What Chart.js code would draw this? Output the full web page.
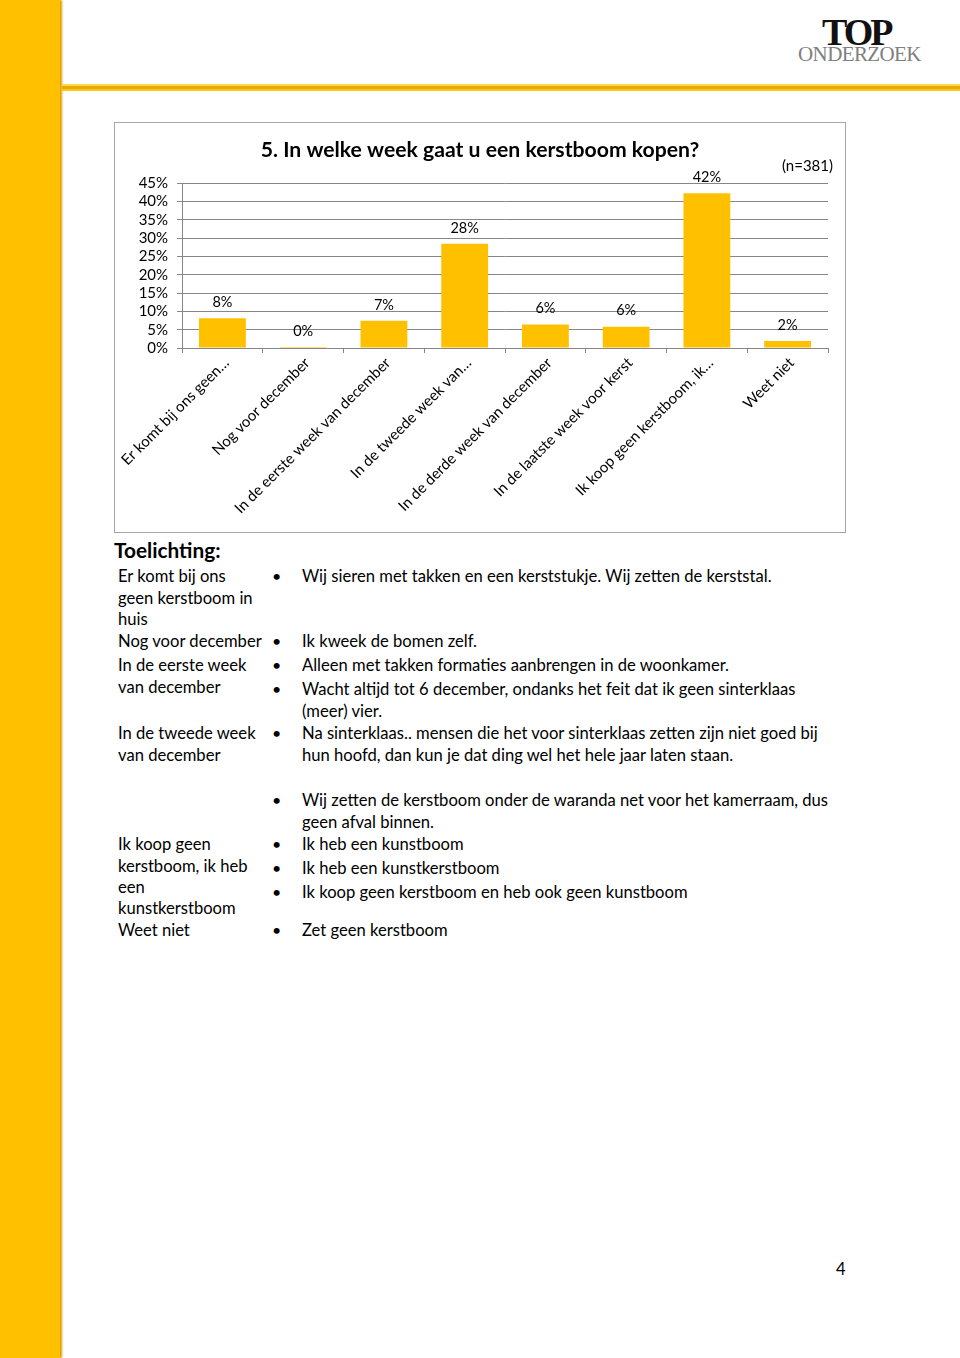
<!DOCTYPE html>
<html>
<head>
<meta charset="utf-8">
<script src="https://cdn.jsdelivr.net/npm/chart.js@4.4.0/dist/chart.umd.min.js"></script>
<style>
    body { margin: 0; width: 960px; height: 1358px; position: relative; background: #fff; font-family: Lato, "Noto Sans", sans-serif; color: #000; overflow: hidden; }
    .side { position: absolute; left: 0; top: 0; width: 60px; height: 1358px; background: #FFC000; box-shadow: 2px 0 2px #d99e00; }
    .topline { position: absolute; left: 62px; top: 84px; width: 898px; height: 7px; background: linear-gradient(#ffd84d 0, #ffd84d 2px, #e9a900 2px, #e9a900 5px, #ffc61a 5px); }
    .logo-top { position: absolute; left: 822px; top: 10px; font-family: "Liberation Serif", serif; font-size: 38px; font-weight: bold; letter-spacing: -3px; color: #111; }
    .logo-bottom { position: absolute; left: 798px; top: 42px; font-family: "Liberation Serif", serif; font-size: 21px; color: #7f7f7f; letter-spacing: -0.6px; }
    #box { position: absolute; left: 114px; top: 122px; width: 730px; height: 409px; border: 1px solid #a6a6a6; }
    .t { position: absolute; font-size: 16.6px; line-height: 20px; white-space: nowrap; }
    .b { position: absolute; font-size: 16px; line-height: 20px; left: 272px; }
    .head { position: absolute; left: 114px; top: 537px; font-size: 20.8px; font-weight: bold; }
</style>
</head>
<body>
<div class="side"></div>
<div class="topline"></div>
<div class="logo-top">TOP</div>
<div class="logo-bottom">ONDERZOEK</div>

<div id="box"><canvas id="weekChart" width="730" height="409"></canvas></div>

<div class="head">Toelichting:</div>

<!-- linker kolom -->
<div class="t" style="left:118px;top:566px">Er komt bij ons</div>
<div class="t" style="left:118px;top:588px">geen kerstboom in</div>
<div class="t" style="left:118px;top:609px">huis</div>
<div class="t" style="left:118px;top:631px">Nog voor december</div>
<div class="t" style="left:118px;top:655px">In de eerste week</div>
<div class="t" style="left:118px;top:677px">van december</div>
<div class="t" style="left:118px;top:723px">In de tweede week</div>
<div class="t" style="left:118px;top:745px">van december</div>
<div class="t" style="left:118px;top:834px">Ik koop geen</div>
<div class="t" style="left:118px;top:856px">kerstboom, ik heb</div>
<div class="t" style="left:118px;top:877px">een</div>
<div class="t" style="left:118px;top:898px">kunstkerstboom</div>
<div class="t" style="left:118px;top:920px">Weet niet</div>

<!-- opmerkingen -->
<div class="b" style="top:566px">•</div>
<div class="t" style="left:302px;top:566px">Wij sieren met takken en een kerststukje. Wij zetten de kerststal.</div>
<div class="b" style="top:631px">•</div>
<div class="t" style="left:302px;top:631px">Ik kweek de bomen zelf.</div>
<div class="b" style="top:655px">•</div>
<div class="t" style="left:302px;top:655px">Alleen met takken formaties aanbrengen in de woonkamer.</div>
<div class="b" style="top:679px">•</div>
<div class="t" style="left:302px;top:679px">Wacht altijd tot 6 december, ondanks het feit dat ik geen sinterklaas</div>
<div class="t" style="left:302px;top:701px">(meer) vier.</div>
<div class="b" style="top:723px">•</div>
<div class="t" style="left:302px;top:723px">Na sinterklaas.. mensen die het voor sinterklaas zetten zijn niet goed bij</div>
<div class="t" style="left:302px;top:745px">hun hoofd, dan kun je dat ding wel het hele jaar laten staan.</div>
<div class="b" style="top:790px">•</div>
<div class="t" style="left:302px;top:790px">Wij zetten de kerstboom onder de waranda net voor het kamerraam, dus</div>
<div class="t" style="left:302px;top:812px">geen afval binnen.</div>
<div class="b" style="top:834px">•</div>
<div class="t" style="left:302px;top:834px">Ik heb een kunstboom</div>
<div class="b" style="top:858px">•</div>
<div class="t" style="left:302px;top:858px">Ik heb een kunstkerstboom</div>
<div class="b" style="top:882px">•</div>
<div class="t" style="left:302px;top:882px">Ik koop geen kerstboom en heb ook geen kunstboom</div>
<div class="b" style="top:920px">•</div>
<div class="t" style="left:302px;top:920px">Zet geen kerstboom</div>

<div class="t" style="left:836px;top:1259px">4</div>

<script>
// Antwoordcategorieën (zoals op de as afgekort)
const categories = [
    'Er komt bij ons geen…',
    'Nog voor december',
    'In de eerste week van december',
    'In de tweede week van…',
    'In de derde week van december',
    'In de laatste week voor kerst',
    'Ik koop geen kerstboom, ik…',
    'Weet niet'
];

// Percentages per antwoord
const percentages = [8.1, 0.3, 7.4, 28.4, 6.4, 5.8, 42.2, 1.9];

// Y-as
const yMin = 0;
const yMax = 45;
const yStep = 5;

const chartTitle = '5. In welke week gaat u een kerstboom kopen?';
const sampleNote = '(n=381)';

const FONT = 'Lato, "Noto Sans", sans-serif';

// Titel en n= tekst
const titlePlugin = {
    id: 'titleText',
    afterDraw(chart) {
        const ctx = chart.ctx;
        ctx.save();
        ctx.fillStyle = '#000';
        ctx.textBaseline = 'middle';
        ctx.font = 'bold 21.2px ' + FONT;
        ctx.textAlign = 'center';
        ctx.fillText(chartTitle, 365, 27);
        ctx.font = '15px ' + FONT;
        ctx.textAlign = 'right';
        ctx.fillText(sampleNote, 718, 43);
        ctx.restore();
    }
};

// Waardelabels boven de staven
const valueLabels = {
    id: 'valueLabels',
    afterDatasetsDraw(chart) {
        const ctx = chart.ctx;
        const meta = chart.getDatasetMeta(0);
        ctx.save();
        ctx.fillStyle = '#000';
        ctx.font = '14.5px ' + FONT;
        ctx.textAlign = 'center';
        ctx.textBaseline = 'middle';
        meta.data.forEach((bar, i) => {
            ctx.fillText(Math.round(percentages[i]) + '%', bar.x, bar.y - 16);
        });
        ctx.restore();
    }
};

const ctx = document.getElementById('weekChart').getContext('2d');
const weekChart = new Chart(ctx, {
    type: 'bar',
    data: {
        labels: categories,
        datasets: [{
            data: percentages,
            backgroundColor: '#FFC000',
            borderWidth: 0,
            barPercentage: 0.58,
            categoryPercentage: 1
        }]
    },
    options: {
        responsive: false,
        animation: false,
        layout: { padding: { top: 60, right: 17, left: 0, bottom: 0 } },
        plugins: {
            legend: { display: false },
            tooltip: { enabled: false }
        },
        scales: {
            x: {
                grid: { drawOnChartArea: false, drawTicks: true, tickLength: 5, color: '#868686' },
                border: { color: '#868686' },
                ticks: {
                    color: '#000',
                    font: { size: 15, family: FONT },
                    minRotation: 45,
                    maxRotation: 45,
                    autoSkip: false,
                    labelOffset: 4,
                    padding: 1
                },
                afterFit(scale) { scale.height = 184; }
            },
            y: {
                min: yMin,
                max: yMax,
                grid: { color: '#868686', tickLength: 5 },
                border: { color: '#868686' },
                ticks: {
                    stepSize: yStep,
                    autoSkip: false,
                    color: '#000',
                    font: { size: 15, family: FONT },
                    padding: 9,
                    callback: v => v + '%'
                },
                afterFit(scale) { scale.width = 66; }
            }
        }
    },
    plugins: [titlePlugin, valueLabels]
});
</script>
</body>
</html>
